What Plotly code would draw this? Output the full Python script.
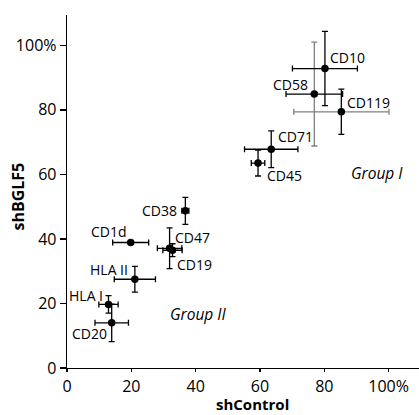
import plotly.graph_objects as go

# ---- data (percent) ----
markers = ["CD10", "CD58", "CD119", "CD71", "CD45", "CD38", "CD1d", "CD47",
           "CD19", "HLA II", "HLA I", "CD20"]
sh_control = [80.2, 76.9, 85.3, 63.5, 59.4, 36.8, 19.8, 31.9, 32.8, 21.1, 12.9, 13.9]
sh_bglf5 = [92.8, 84.9, 79.4, 67.8, 63.5, 48.7, 38.9, 37.1, 36.5, 27.5, 19.7, 14.0]
err_control = [10.1, 8.8, 14.8, 8.3, 2.1, 1.1, 5.6, 3.8, 3.0, 6.4, 3.0, 5.2]
err_bglf5 = [11.5, 16.1, 7.0, 5.7, 4.0, 4.2, 0.0, 6.3, 2.0, 4.0, 2.7, 5.8]
gray_x_err = ["CD119"]   # horizontal bar drawn in grey
gray_y_err = ["CD58"]    # vertical bar drawn in grey

tick_vals = [0, 20, 40, 60, 80, 100]
tick_text = ["0", "20", "40", "60", "80", "100%"]
group_labels = [("Group I", 96.5, 60.4), ("Group II", 40.7, 16.8)]

# ---- label placement (style) ----
label_style = {
    "CD10": ("left", 3, 11), "CD58": ("right", -4, 10), "CD119": ("left", 4, 9),
    "CD71": ("left", 5, 13), "CD45": ("left", 7, -12), "CD38": ("right", -6, 0),
    "CD1d": ("right", -2, 11), "CD47": ("left", 3, 11), "CD19": ("left", 3, -14),
    "HLA II": ("right", -5, 10), "HLA I": ("right", -3, 9), "CD20": ("right", -3, -11),
}

FONT = "Open Sans, Noto Sans, DejaVu Sans, sans-serif"
GRAY = "#808080"
LW = 1.3
CAP = 3

fig = go.Figure()

# grey error bars first (behind)
for i, m in enumerate(markers):
    if m in gray_x_err:
        fig.add_trace(go.Scatter(
            x=[sh_control[i]], y=[sh_bglf5[i]], mode="markers",
            marker=dict(size=1, opacity=0), hoverinfo="skip", showlegend=False,
            error_x=dict(type="data", array=[err_control[i]], color=GRAY,
                         thickness=LW, width=CAP)))
    if m in gray_y_err:
        fig.add_trace(go.Scatter(
            x=[sh_control[i]], y=[sh_bglf5[i]], mode="markers",
            marker=dict(size=1, opacity=0), hoverinfo="skip", showlegend=False,
            error_y=dict(type="data", array=[err_bglf5[i]], color=GRAY,
                         thickness=LW, width=CAP)))

# black error bars
bx = [None if m in gray_x_err else e for m, e in zip(markers, err_control)]
by = [None if (m in gray_y_err or e == 0) else e for m, e in zip(markers, err_bglf5)]
fig.add_trace(go.Scatter(
    x=sh_control, y=sh_bglf5, mode="markers",
    marker=dict(size=1, opacity=0), hoverinfo="skip", showlegend=False,
    error_x=dict(type="data", array=bx, color="black", thickness=LW, width=CAP),
    error_y=dict(type="data", array=by, color="black", thickness=LW, width=CAP)))

# points
fig.add_trace(go.Scatter(
    x=sh_control, y=sh_bglf5, mode="markers", text=markers, showlegend=False,
    marker=dict(size=7.5, color="black")))

annotations = []
for m, xv, yv in zip(markers, sh_control, sh_bglf5):
    anc, dx, dy = label_style[m]
    annotations.append(dict(x=xv, y=yv, xref="x", yref="y", text=m, showarrow=False,
                            xanchor=anc, yanchor="middle", xshift=dx, yshift=dy,
                            font=dict(family=FONT, size=14, color="black")))
for txt, gx, gy in group_labels:
    annotations.append(dict(x=gx, y=gy, xref="x", yref="y", text=f"<i>{txt}</i>",
                            showarrow=False, xanchor="center", yanchor="middle",
                            font=dict(family=FONT, size=15.5, color="black")))
# axis titles
annotations.append(dict(x=0.528, y=-0.134, xref="paper", yref="paper", text="<b>shControl</b>",
                        showarrow=False, xanchor="center", yanchor="bottom", borderpad=0,
                        font=dict(family=FONT, size=15, color="black")))
annotations.append(dict(x=-0.138, y=0.487, xref="paper", yref="paper", text="<b>shBGLF5</b>",
                        showarrow=False, xanchor="center", yanchor="middle", textangle=-90,
                        font=dict(family=FONT, size=16, color="black")))

axis_common = dict(showgrid=False, zeroline=False, showline=True, linecolor="black",
                   linewidth=LW, ticks="outside", tickcolor="black", tickwidth=LW,
                   tickvals=tick_vals, ticktext=tick_text,
                   tickfont=dict(family=FONT, size=16, color="black"))

fig.update_layout(
    width=419, height=415,
    margin=dict(l=67, r=0, t=15, b=47, pad=0),
    paper_bgcolor="white", plot_bgcolor="white",
    xaxis=dict(range=[0, 109.45], ticklen=3, **axis_common),
    yaxis=dict(range=[0, 109.4], ticklen=6, **axis_common),
    annotations=annotations,
    font=dict(family=FONT),
    hovermode=False,
)

fig.write_html("out.html", config={"displayModeBar": False, "staticPlot": True},
               post_script="document.body.style.margin='0px';document.body.style.padding='0px';")
